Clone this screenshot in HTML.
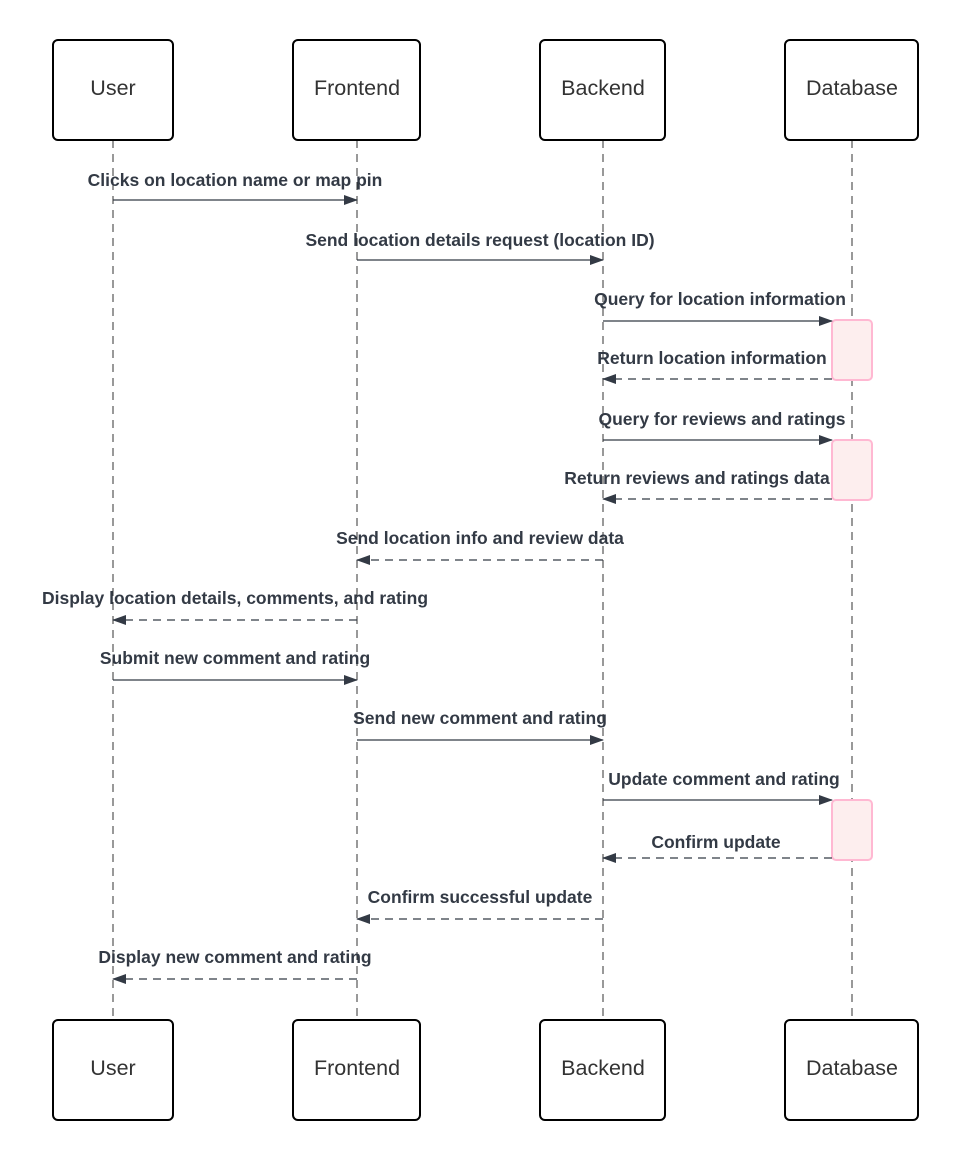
<!DOCTYPE html>
<html><head><meta charset="utf-8"><style>body{margin:0;background:#fff}svg{display:block}</style></head><body>
<svg width="960" height="1160" xmlns="http://www.w3.org/2000/svg" font-family="Liberation Sans, sans-serif">
<defs>
<marker id="a" markerWidth="14" markerHeight="10" refX="13" refY="5" orient="auto" markerUnits="userSpaceOnUse"><path d="M0,0 L14,5 L0,10 Z" fill="#333a45"/></marker>
</defs>
<g stroke="#333" stroke-width="1" stroke-dasharray="8,6" fill="none">
<line x1="113" y1="140" x2="113" y2="1020"/>
<line x1="357" y1="140" x2="357" y2="1020"/>
<line x1="603" y1="140" x2="603" y2="1020"/>
<line x1="852" y1="140" x2="852" y2="1020"/>
</g>
<g fill="#fff" stroke="#000" stroke-width="2">
<rect x="53" y="40" width="120" height="100" rx="5"/><rect x="293" y="40" width="127" height="100" rx="5"/><rect x="540" y="40" width="125" height="100" rx="5"/><rect x="785" y="40" width="133" height="100" rx="5"/>
<rect x="53" y="1020" width="120" height="100" rx="5"/><rect x="293" y="1020" width="127" height="100" rx="5"/><rect x="540" y="1020" width="125" height="100" rx="5"/><rect x="785" y="1020" width="133" height="100" rx="5"/>
</g>
<g font-size="21.5" fill="#333" text-anchor="middle">
<text x="113" y="95">User</text><text x="357" y="95">Frontend</text><text x="603" y="95">Backend</text><text x="852" y="95">Database</text>
<text x="113" y="1075">User</text><text x="357" y="1075">Frontend</text><text x="603" y="1075">Backend</text><text x="852" y="1075">Database</text>
</g>
<g fill="#fdeeee" stroke="#ffb8d2" stroke-width="2">
<rect x="832" y="320" width="40" height="60" rx="4"/><rect x="832" y="440" width="40" height="60" rx="4"/><rect x="832" y="800" width="40" height="60" rx="4"/>
</g>
<g stroke="#333a45" stroke-width="1.2" fill="none" marker-end="url(#a)">
<line x1="113" y1="200" x2="357" y2="200"/>
<line x1="357" y1="260" x2="603" y2="260"/>
<line x1="603" y1="321" x2="832" y2="321"/>
<line x1="832" y1="379" x2="603" y2="379" stroke-dasharray="8,6"/>
<line x1="603" y1="440" x2="832" y2="440"/>
<line x1="832" y1="499" x2="603" y2="499" stroke-dasharray="8,6"/>
<line x1="603" y1="560" x2="357" y2="560" stroke-dasharray="8,6"/>
<line x1="357" y1="620" x2="113" y2="620" stroke-dasharray="8,6"/>
<line x1="113" y1="680" x2="357" y2="680"/>
<line x1="357" y1="740" x2="603" y2="740"/>
<line x1="603" y1="800" x2="832" y2="800"/>
<line x1="832" y1="858" x2="603" y2="858" stroke-dasharray="8,6"/>
<line x1="603" y1="919" x2="357" y2="919" stroke-dasharray="8,6"/>
<line x1="357" y1="979" x2="113" y2="979" stroke-dasharray="8,6"/>
</g>
<g font-size="17.5" font-weight="bold" fill="#333a45" text-anchor="middle">
<text x="235" y="186">Clicks on location name or map pin</text>
<text x="480" y="246">Send location details request (location ID)</text>
<text x="720" y="305">Query for location information</text>
<text x="712" y="364">Return location information</text>
<text x="722" y="425">Query for reviews and ratings</text>
<text x="697" y="484">Return reviews and ratings data</text>
<text x="480" y="544">Send location info and review data</text>
<text x="235" y="604">Display location details, comments, and rating</text>
<text x="235" y="664">Submit new comment and rating</text>
<text x="480" y="724">Send new comment and rating</text>
<text x="724" y="785">Update comment and rating</text>
<text x="716" y="848">Confirm update</text>
<text x="480" y="903">Confirm successful update</text>
<text x="235" y="963">Display new comment and rating</text>
</g>
</svg>
</body></html>
